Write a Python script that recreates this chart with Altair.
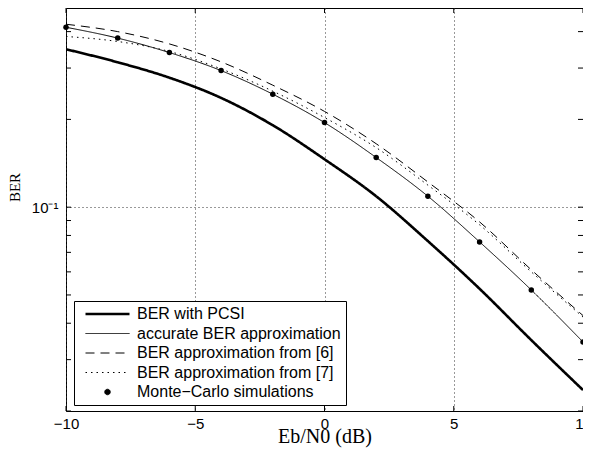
import altair as alt
import pandas as pd

# ---- data ----
ebn0_db = [-10, -8, -6, -4, -2, 0, 2, 4, 6, 8, 10]
ber_pcsi = [0.348, 0.314, 0.278, 0.237, 0.191, 0.146, 0.109, 0.0765, 0.0525, 0.0350, 0.0236]
ber_accurate = [0.414, 0.380, 0.339, 0.294, 0.244, 0.195, 0.148, 0.109, 0.076, 0.052, 0.0345]
ber_ref6 = [0.424, 0.400, 0.363, 0.315, 0.262, 0.213, 0.165, 0.122, 0.089, 0.061, 0.0425]
ber_ref7 = [0.385, 0.370, 0.342, 0.298, 0.250, 0.203, 0.160, 0.119, 0.087, 0.060, 0.0420]
mc_db = [-10, -8, -6, -4, -2, 0, 2, 4, 6, 8, 10]
mc_ber = [0.414, 0.380, 0.339, 0.294, 0.244, 0.195, 0.148, 0.109, 0.076, 0.052, 0.0345]

series_names = [
    "BER with PCSI",
    "accurate BER approximation",
    "BER approximation from [6]",
    "BER approximation from [7]",
    "Monte\u2212Carlo simulations",
]
x_ticks = [-10, -5, 0, 5, 10]
y_ticks = [0.02, 0.03, 0.04, 0.05, 0.06, 0.07, 0.08, 0.09, 0.1, 0.2, 0.3, 0.4]
y_label_ticks = [0.1]

# ---- tables ----
rows = []
for name, vals in zip(series_names[:4], [ber_pcsi, ber_accurate, ber_ref6, ber_ref7]):
    for xv, yv in zip(ebn0_db, vals):
        rows.append({"x": xv, "y": yv, "series": name})
lines_df = pd.DataFrame(rows)
mc_df = pd.DataFrame({"x": mc_db, "y": mc_ber, "series": series_names[4]})
xt_df = pd.DataFrame({"x": x_ticks})
yt_df = pd.DataFrame({"y": y_ticks})

W, H = 517, 403
TL = 5

xscale = alt.Scale(domain=[-10, 10], nice=False, zero=False)
yscale = alt.Scale(type="log", domain=[0.02, 0.482], nice=False)

x_axis = alt.Axis(
    values=x_ticks, grid=True, gridDash=[1, 3], gridColor="#333", gridWidth=1,
    ticks=False, tickSize=0, domain=False, labelFlush=False, labelOverlap=False,
    labelFont="Liberation Sans", labelFontSize=15, labelColor="black",
    labelBaseline="alphabetic", labelPadding=17,
    title="Eb/N0 (dB)", titleFont="Liberation Serif", titleFontSize=20,
    titleFontWeight="normal", titleColor="black", titleBaseline="alphabetic",
    titleY=31,
)
y_axis = alt.Axis(
    values=y_label_ticks, grid=True, gridDash=[1, 3], gridColor="#333", gridWidth=1,
    ticks=False, tickSize=0, domain=False, labelFlush=False,
    labelExpr='"10\u207b\u00b9"',
    labelFont="Liberation Sans", labelFontSize=15, labelColor="black", labelPadding=8,
    title="BER", titleFont="Liberation Serif", titleFontSize=15,
    titleFontWeight="normal", titleColor="black", titleX=-44, titleY=179,
)


def X(field="x"):
    return alt.X(f"{field}:Q", scale=xscale, axis=x_axis)


def Y(field="y"):
    return alt.Y(f"{field}:Q", scale=yscale, axis=y_axis)


leg = alt.Legend(title=None)
color = alt.Color("series:N", scale=alt.Scale(domain=series_names, range=["black"] * 5), legend=leg)

lines = alt.Chart(lines_df).mark_line(clip=True, interpolate="monotone").encode(
    x=X(), y=Y(),
    color=color,
    strokeDash=alt.StrokeDash(
        "series:N",
        scale=alt.Scale(type="ordinal", domain=series_names,
                        range=[[1, 0], [1, 0], [9, 6], [1.5, 4], [1, 0]]),
        legend=leg,
    ),
    strokeWidth=alt.StrokeWidth(
        "series:N",
        scale=alt.Scale(type="ordinal", domain=series_names, range=[2.6, 1, 1, 1, 1]),
        legend=leg,
    ),
)

points = alt.Chart(mc_df).mark_point(filled=True, opacity=1).encode(
    x=X(), y=Y(),
    color=color,
    shape=alt.Shape(
        "series:N",
        scale=alt.Scale(type="ordinal", domain=series_names,
                        range=["stroke", "stroke", "stroke", "stroke", "circle"]),
        legend=leg,
    ),
    size=alt.Size(
        "series:N",
        scale=alt.Scale(type="ordinal", domain=series_names, range=[1936, 1936, 1936, 1936, 30]),
        legend=leg,
    ),
)

tick_left = alt.Chart(yt_df).mark_rule(color="black", strokeWidth=1).encode(
    y=Y(), x=alt.value(0), x2=alt.value(TL))
tick_right = alt.Chart(yt_df).mark_rule(color="black", strokeWidth=1).encode(
    y=Y(), x=alt.value(W), x2=alt.value(W - TL))
tick_bottom = alt.Chart(xt_df).mark_rule(color="black", strokeWidth=1).encode(
    x=X(), y=alt.value(H), y2=alt.value(H - TL))
tick_top = alt.Chart(xt_df).mark_rule(color="black", strokeWidth=1).encode(
    x=X(), y=alt.value(0), y2=alt.value(TL))

chart = alt.layer(lines, points, tick_left, tick_right, tick_bottom, tick_top).properties(
    width=W, height=H,
    autosize=alt.AutoSizeParams(type="none"),
    padding={"left": 58, "top": 0, "right": 0, "bottom": 38},
).configure_view(
    stroke="black", strokeWidth=1
).configure_legend(
    orient="none", legendX=8, legendY=293, padding=5,
    strokeColor="black", fillColor="white", cornerRadius=0,
    labelFont="Liberation Sans", labelFontSize=16, labelColor="black",
    labelOffset=6, labelLimit=0, clipHeight=16, rowPadding=3.5, symbolOpacity=1,
    symbolOffset=5,
)

chart.save("out.html", embed_options={"renderer": "svg", "actions": False})
